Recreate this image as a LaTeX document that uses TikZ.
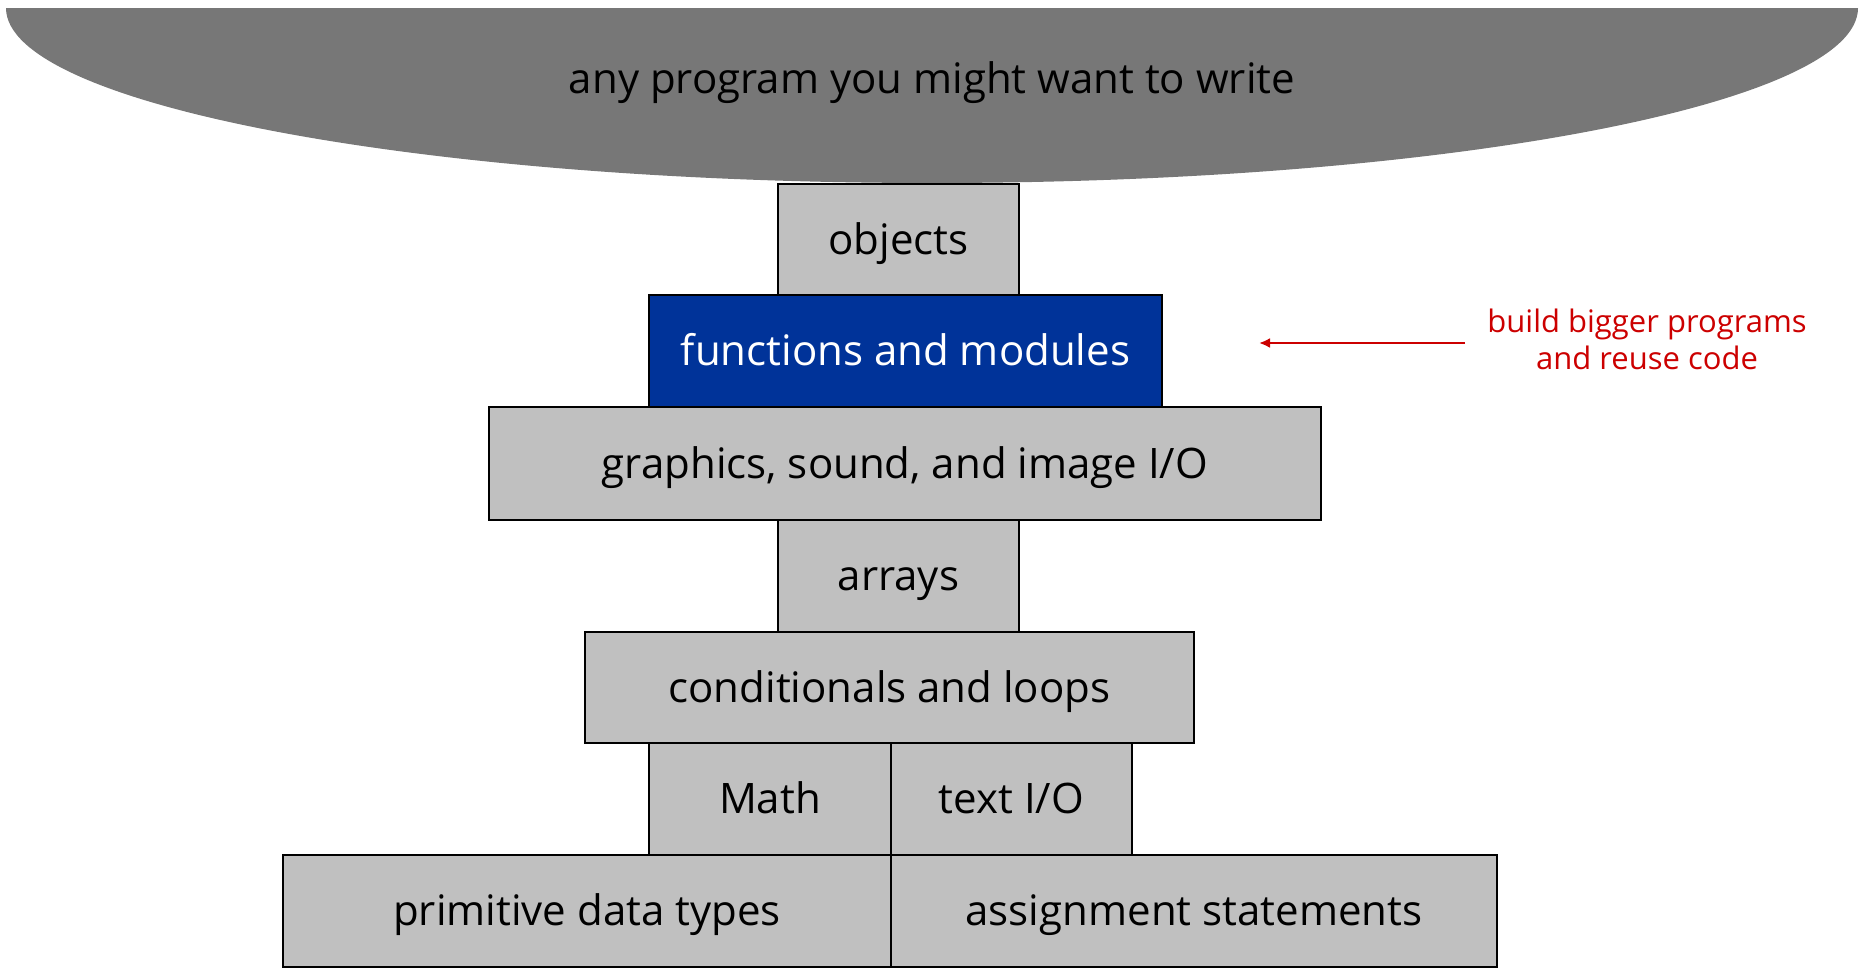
\documentclass[tikz,border=0pt]{standalone}
\usepackage{fontspec}
\setmainfont{Open Sans}
\usetikzlibrary{arrows.meta}
\definecolor{boxgray}{HTML}{C0C0C0}
\definecolor{topgray}{HTML}{777777}
\definecolor{funcblue}{HTML}{003399}
\definecolor{notered}{HTML}{CC0000}
\tikzset{
  bigtext/.style={font=\fontsize{42}{48}\selectfont, text height=35pt, text depth=6pt},
  layer/.style={draw=black, line width=2.5pt, fill=boxgray, inner sep=0pt, anchor=center,
    bigtext, text=black},
  hilite/.style={layer, fill=funcblue, text=white},
  note/.style={text=notered, align=center, font=\fontsize{31}{37}\selectfont, inner sep=0pt},
  notearrow/.style={draw=notered, line width=2.8pt, -{Latex[length=11pt,width=10pt]}}
}
\begin{document}
\begin{tikzpicture}[x=1pt,y=-1pt]
\useasboundingbox (0,0) rectangle (1865,972);
% top half-ellipse
\begin{scope}
  \clip (0,8) rectangle (1865,200);
  \fill[topgray] (932,8) ellipse [x radius=926, y radius=175];
\end{scope}
\node[bigtext, inner sep=0pt] (top) at (932,79) {any program you might want to write};
% layers
\node[layer, minimum width=241pt, minimum height=111pt] (objects) at (898.5,239.5) {objects};
\node[hilite, minimum width=513pt, minimum height=112pt] (functions) at (905.5,351) {functions and modules};
\node[layer, minimum width=832pt, minimum height=113pt] (graphics) at (905,463.5) {graphics, sound, and image I/O};
\node[layer, minimum width=241pt, minimum height=112pt] (arrays) at (898.5,576) {arrays};
\node[layer, minimum width=609pt, minimum height=111pt] (cond) at (889.5,687.5) {conditionals and loops};
\node[layer, minimum width=242pt, minimum height=112pt] (math) at (770,799) {Math};
\node[layer, minimum width=241pt, minimum height=112pt] (textio) at (1011.5,799) {text I/O};
\node[layer, minimum width=608pt, minimum height=112pt] (prim) at (587,911) {primitive data types};
\node[layer, minimum width=606pt, minimum height=112pt] (assign) at (1194,911) {assignment statements};
% annotation
\node[note] (notetext) at (1647,339) {build bigger programs\\and reuse code};
\coordinate (arrowtail) at (1465,343);
\coordinate (arrowtip) at (1259,343);
\draw[notearrow] (arrowtail) -- (arrowtip);
\end{tikzpicture}
\end{document}
